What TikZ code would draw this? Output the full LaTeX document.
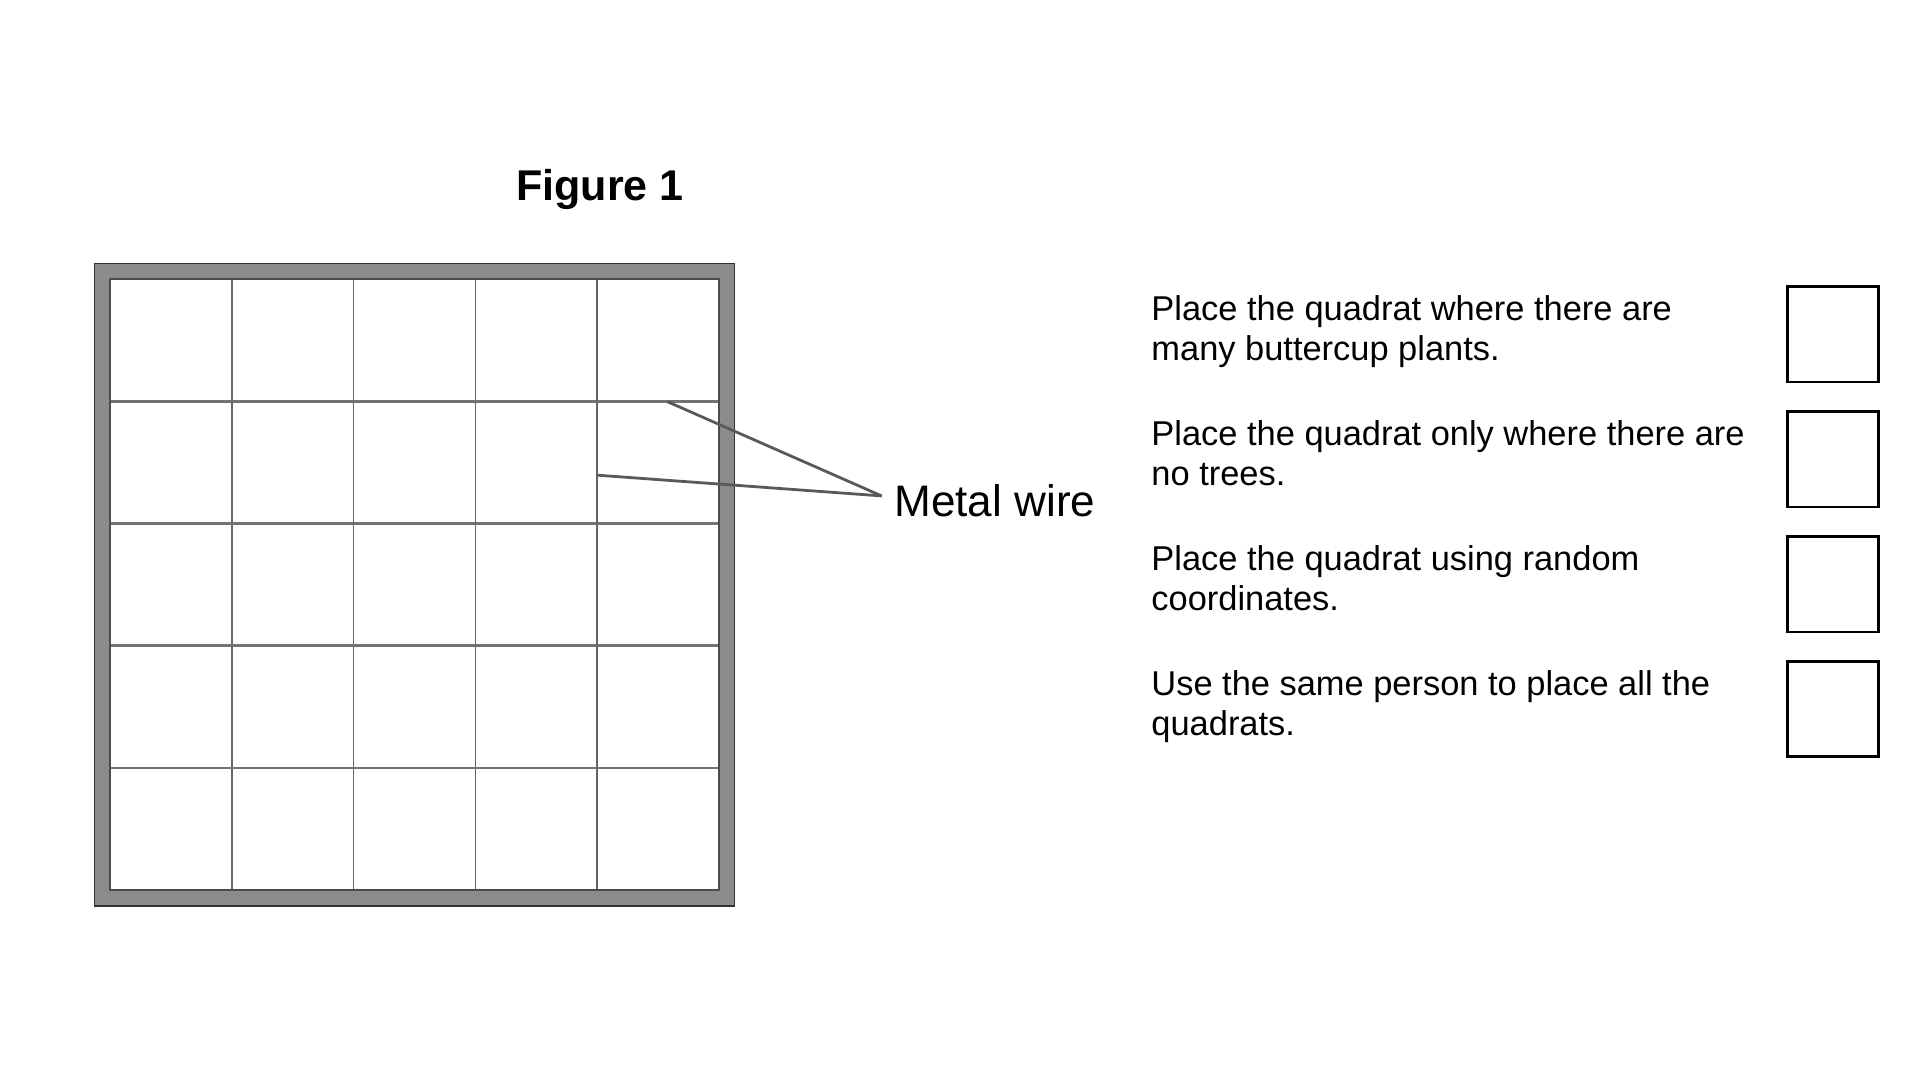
\documentclass[tikz,border=0pt]{standalone}
\usepackage{fontspec}
\setmainfont{Liberation Sans}
\begin{document}
\begin{tikzpicture}[x=0.02cm,y=-0.02cm,
  txt/.style={anchor=north west,align=left,inner sep=0pt,font=\fontsize{16}{18.7}\selectfont},
  tick/.style={draw=black,line width=1.2pt,minimum width=74*0.02cm,minimum height=78*0.02cm,inner sep=0pt},
  wire/.style={draw=black!65,line width=1.3pt}]
\useasboundingbox (0,0) rectangle (1568,882);
\node[font=\bfseries\fontsize{20}{24}\selectfont] (title) at (490,155) {Figure 1};
% frame
\draw[draw=black!45,line width=12*0.02cm] (83.5,221.5) rectangle (593.5,733.5);
\draw[draw=black!80,line width=0.6pt] (77,215) rectangle (600,740);
\foreach \i in {1,...,4}{
  \draw[draw=black!55,line width=1.3pt] (90,{228+\i*99.8}) -- (587,{228+\i*99.8});
  \draw[draw=black!60,line width=0.7pt] ({90+\i*99.4},228) -- ({90+\i*99.4},727);
}
\draw[draw=black!70,line width=1pt] (90,228) rectangle (587,727);
\node[anchor=west,inner sep=0pt,font=\fontsize{20.5}{24}\selectfont] (mw) at (730,409) {Metal wire};
\coordinate (w1) at (545,328);
\coordinate (w2) at (487,388);
\coordinate (tip) at (720,405);
\draw[wire] (w1) -- (tip);
\draw[wire] (w2) -- (tip);
\node[txt] (t1) at (940,241) {Place the quadrat where there are\\many buttercup plants.};
\node[txt] (t2) at (940,343) {Place the quadrat only where there are\\no trees.};
\node[txt] (t3) at (940,445) {Place the quadrat using random\\coordinates.};
\node[txt] (t4) at (940,547) {Use the same person to place all the\\quadrats.};
\node[tick] (b1) at (1497,273) {};
\node[tick] (b2) at (1497,375) {};
\node[tick] (b3) at (1497,477) {};
\node[tick] (b4) at (1497,579) {};
\end{tikzpicture}
\end{document}
